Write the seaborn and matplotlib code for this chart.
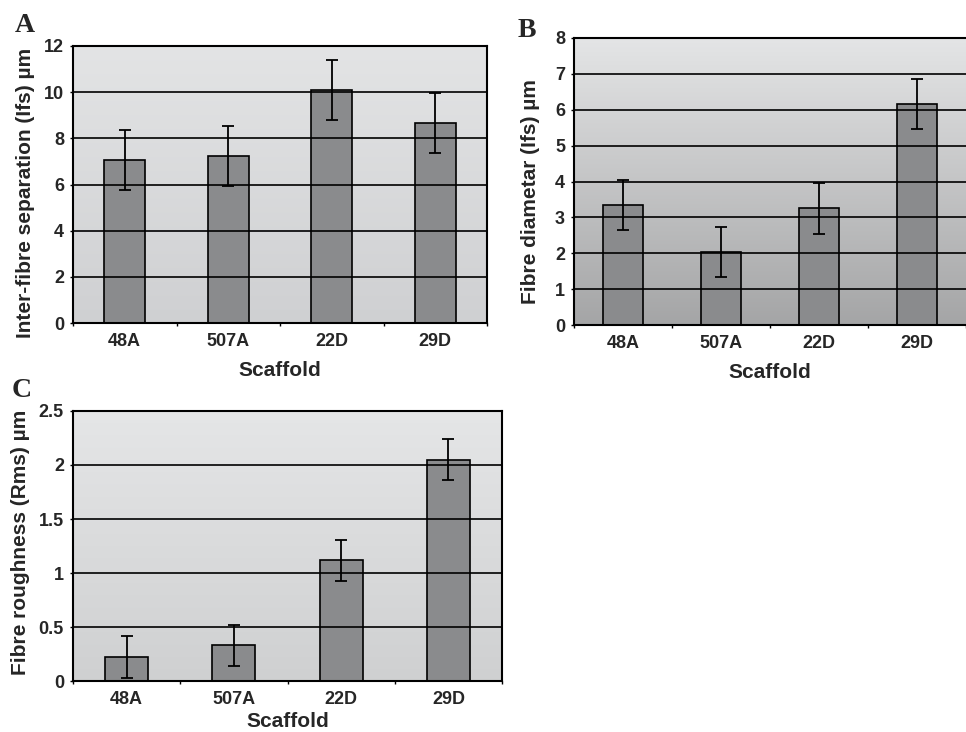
import numpy as np
import matplotlib
matplotlib.use('Agg')
import matplotlib.pyplot as plt
import seaborn as sns

# values
scaffolds = ['48A', '507A', '22D', '29D']

sep_mean = [7.05, 7.25, 10.1, 8.65]
sep_err = [1.3, 1.3, 1.3, 1.3]

diam_mean = [3.35, 2.03, 3.25, 6.17]
diam_err = [0.7, 0.69, 0.7, 0.7]

rough_mean = [0.22, 0.33, 1.12, 2.05]
rough_err = [0.195, 0.19, 0.19, 0.19]

sep_ticks = [0, 2, 4, 6, 8, 10, 12]
diam_ticks = [0, 1, 2, 3, 4, 5, 6, 7, 8]
rough_ticks = [0, 0.5, 1, 1.5, 2, 2.5]
rough_ticklabels = ['0', '0.5', '1', '1.5', '2', '2.5']

sns.set_style('ticks')
plt.rcParams['font.family'] = ['Liberation Sans', 'DejaVu Sans']
plt.rcParams['font.weight'] = 'bold'
plt.rcParams['axes.labelweight'] = 'bold'

W, H = 966, 732
fig = plt.figure(figsize=(W / 100, H / 100), dpi=100)


def px_axes(left, top, right, bottom):
    return fig.add_axes([left / W, 1 - bottom / H, (right - left) / W, (bottom - top) / H])


def panel(ax, means, errs, ticks, ticklabels, ylabel, top_c, bot_c, label_xy,
          right_spine=True, xpad=8):
    sns.barplot(ax=ax, x=scaffolds, y=means, color='#8a8b8d', saturation=1,
                edgecolor='black', linewidth=1.2, width=0.4, zorder=2)
    ax.errorbar(range(len(scaffolds)), means, yerr=errs, fmt='none', ecolor='black',
                elinewidth=1.3, capsize=4, capthick=1.3, zorder=3)
    # gradient background
    grad = np.linspace(0, 1, 256)[:, None]
    cols = np.array(top_c)[None, None, :] * (1 - grad[:, :, None]) + np.array(bot_c)[None, None, :] * grad[:, :, None]
    ax.imshow(cols, extent=[0, 1, 0, 1], transform=ax.transAxes, aspect='auto', zorder=0)
    ax.set_xlim(-0.5, len(scaffolds) - 0.5)
    ax.set_ylim(ticks[0], ticks[-1])
    ax.set_yticks(ticks)
    ax.set_yticklabels(ticklabels if ticklabels else [str(t) for t in ticks])
    ax.yaxis.grid(True, color='black', linewidth=1.2, zorder=1)
    ax.set_axisbelow(False)
    for gl in ax.get_ygridlines():
        gl.set_zorder(1)
    ax.set_xticks(np.arange(-0.5, len(scaffolds)), minor=True)
    ax.tick_params(axis='x', which='major', length=0, pad=7, labelsize=13)
    ax.tick_params(axis='x', which='minor', length=2.5, width=1, direction='out', color='black')
    ax.tick_params(axis='y', length=2.5, width=1, pad=4, labelsize=13, color='black')
    for s in ax.spines.values():
        s.set_color('black')
        s.set_linewidth(1.5)
        s.set_zorder(4)
    ax.spines['right'].set_visible(right_spine)
    ax.set_xlabel('Scaffold', fontsize=15, labelpad=xpad)
    ax.set_ylabel(ylabel, fontsize=15)
    ax.yaxis.set_label_coords(*label_xy)


axA = px_axes(73, 46, 487, 323)
panel(axA, sep_mean, sep_err, sep_ticks, None, 'Inter-fibre separation (Ifs) µm',
      (0.890, 0.894, 0.898), (0.812, 0.816, 0.824), (-0.092, 0.47))

axB = px_axes(574, 38, 966, 325)
panel(axB, diam_mean, diam_err, diam_ticks, None, 'Fibre diametar (Ifs) µm',
      (0.894, 0.898, 0.902), (0.645, 0.647, 0.651), (-0.087, 0.465), right_spine=False)

axC = px_axes(73, 411, 502, 681)
panel(axC, rough_mean, rough_err, rough_ticks, rough_ticklabels, 'Fibre roughness (Rms) µm',
      (0.898, 0.902, 0.906), (0.812, 0.816, 0.820), (-0.10, 0.515), xpad=3)

for letter, x, y in [('A', 15, 32), ('B', 518, 37), ('C', 12, 397)]:
    fig.text(x / W, 1 - y / H, letter, family='Liberation Serif', weight='bold',
             fontsize=20, ha='left', va='baseline')

fig.savefig('out.png', dpi=100)
